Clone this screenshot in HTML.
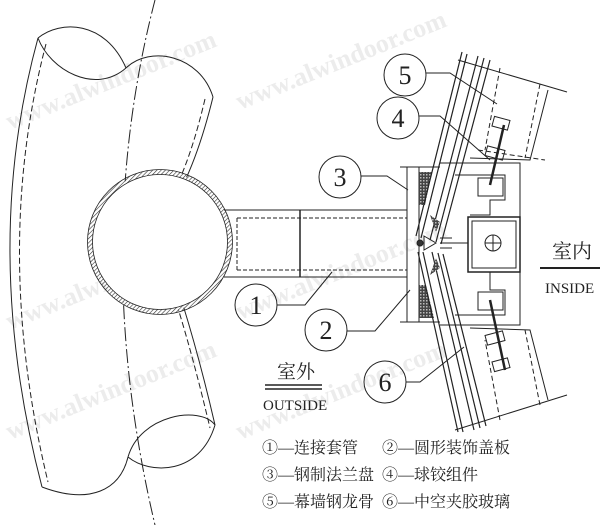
<!DOCTYPE html>
<html><head><meta charset="utf-8"><style>
html,body{margin:0;padding:0;background:#fff;}
svg{display:block;}
text{font-family:"Liberation Serif","Noto Serif CJK SC","Noto Sans CJK SC",serif;fill:#222;}
.cj{font-family:"Noto Serif CJK SC","Noto Sans CJK SC",serif;}
</style></head><body>
<svg width="600" height="525" viewBox="0 0 600 525" xmlns="http://www.w3.org/2000/svg">
<defs>
<pattern id="h" width="3" height="3" patternUnits="userSpaceOnUse" patternTransform="rotate(45)"><line x1="0" y1="0" x2="0" y2="3" stroke="#333" stroke-width="1.2"/></pattern>
<pattern id="x" width="3" height="3" patternUnits="userSpaceOnUse"><rect width="3" height="3" fill="#444"/><rect width="1.5" height="1.5" fill="#bbb"/></pattern>
</defs>
<g font-family="Liberation Sans,sans-serif" font-size="26" font-weight="bold">
<text x="10" y="130" transform="rotate(-22 10 130)" style="fill:#ececec">www.alwindoor.com</text>
<text x="240" y="110" transform="rotate(-22 240 110)" style="fill:#ececec">www.alwindoor.com</text>
<text x="10" y="330" transform="rotate(-22 10 330)" style="fill:#ececec">www.alwindoor.com</text>
<text x="240" y="320" transform="rotate(-22 240 320)" style="fill:#ececec">www.alwindoor.com</text>
<text x="10" y="440" transform="rotate(-22 10 440)" style="fill:#ececec">www.alwindoor.com</text>
<text x="240" y="440" transform="rotate(-22 240 440)" style="fill:#ececec">www.alwindoor.com</text>
</g>
<g fill="none" stroke="#222" stroke-width="1">
<path d="M155 0 Q90 250 155 525" stroke-dasharray="14 3 2 3"/>
<path d="M38 38 Q-20 250 42 487"/>
<path d="M46 44 Q-8 250 48 482" stroke-dasharray="6 3"/>
<path d="M213 97 Q200 150 183 185"/>
<path d="M205 99 Q193 150 178 183" stroke-dasharray="6 3"/>
<path d="M183 305 Q200 360 215 425"/>
<path d="M177 305 Q194 360 210 428" stroke-dasharray="6 3"/>
<path d="M38 38 C60 20 105 20 126 68"/>
<path d="M38 38 C50 70 95 95 126 68"/>
<path d="M126 68 C150 45 200 55 213 97"/>
<path d="M128 457 C140 415 200 405 215 425"/>
<path d="M128 457 C150 475 200 475 215 425"/>
<path d="M128 457 C120 490 90 505 42 487"/>
<circle cx="160" cy="242" r="70" stroke="url(#h)" stroke-width="5" fill="#fff"/>
<circle cx="160" cy="242" r="72.5" stroke-width="0.8"/>
<circle cx="160" cy="242" r="67.5" stroke-width="0.8"/>
<line x1="224" y1="210" x2="407" y2="210"/>
<line x1="224" y1="277" x2="407" y2="277"/>
<path d="M237 218 H407 M237 270 H407 M237 218 V270" stroke-dasharray="4 2"/>
<line x1="300" y1="210" x2="300" y2="277" stroke-width="1.5"/>
<rect x="407" y="167" width="12" height="155"/>
<path d="M419 172 L432 172 L425 205 L419 205 Z" fill="url(#x)" stroke="none"/>
<path d="M419 285 L426 285 L434 318 L419 318 Z" fill="url(#x)" stroke="none"/>
<line x1="400" y1="167" x2="440" y2="167"/><line x1="400" y1="322" x2="440" y2="322"/>
<g stroke-width="1.2">
<line x1="416" y1="236" x2="462" y2="52"/>
<line x1="421" y1="238" x2="467" y2="54"/>
<line x1="430" y1="240" x2="478" y2="56"/>
<line x1="436" y1="242" x2="484" y2="58"/>
<line x1="441" y1="244" x2="490" y2="60"/>
<line x1="418" y1="252" x2="458" y2="432"/>
<line x1="423" y1="252" x2="463" y2="432"/>
<line x1="432" y1="252" x2="474" y2="430"/>
<line x1="438" y1="253" x2="480" y2="428"/>
<line x1="443" y1="254" x2="486" y2="426"/>
</g>
<path d="M430 215 L440 222 L436 232 Z M430 275 L440 268 L436 258 Z" fill="url(#x)" stroke="none"/>
<circle cx="420" cy="243" r="3" fill="#333"/>
<path d="M424 236 L436 243 L424 250 Z"/>
<path d="M440 163 H520 V325 H440"/>
<path d="M455 175 H505 V200 H490 V215 H470"/>
<path d="M455 315 H505 V290 H490 V272 H470"/>
<rect x="478" y="178" width="25" height="18"/>
<rect x="478" y="292" width="25" height="18"/>
<rect x="468" y="217" width="52" height="55" stroke-width="1.5"/>
<rect x="472" y="221" width="44" height="47"/>
<circle cx="493" cy="243" r="8"/>
<path d="M485 243 H501 M493 235 V251"/>
<path d="M440 243 L468 243 M440 238 L452 238 M440 248 L452 248"/>
<path d="M458 60 L567 92"/>
<path d="M548 90 L530 160 L470 158"/>
<path d="M500 68 L485 150 M540 84 L525 158" stroke-dasharray="5 3"/>
<path d="M478 150 L545 160" stroke-dasharray="5 3"/>
<rect x="493" y="118" width="16" height="10" transform="rotate(15 500 123)"/>
<rect x="486" y="148" width="18" height="10" transform="rotate(15 495 153)"/>
<line x1="504" y1="125" x2="490" y2="185" stroke-width="2.5"/>
<path d="M455 430 L567 395"/>
<path d="M548 400 L530 330 L470 328"/>
<path d="M500 420 L485 340 M540 405 L525 330" stroke-dasharray="5 3"/>
<line x1="490" y1="300" x2="505" y2="370" stroke-width="2.5"/>
<rect x="486" y="333" width="18" height="10" transform="rotate(-15 495 338)"/>
<rect x="493" y="360" width="16" height="10" transform="rotate(-15 500 365)"/>
<circle cx="405" cy="75" r="21"/><circle cx="398" cy="118" r="21"/>
<circle cx="340" cy="177" r="21"/><circle cx="256" cy="305" r="21"/>
<circle cx="326" cy="330" r="21"/><circle cx="385" cy="382" r="21"/>
<path d="M426 73 H450 L497 104"/>
<path d="M419 116 H440 L490 160"/>
<path d="M361 176 H387 L408 190"/>
<path d="M277 305 H305 L332 272"/>
<path d="M347 331 H375 L410 290"/>
<path d="M406 382 H420 L464 347"/>
<line x1="540" y1="268" x2="600" y2="268" stroke-width="2"/>
<line x1="265" y1="385" x2="322" y2="385" stroke-width="1.5"/>
<line x1="265" y1="389" x2="322" y2="389" stroke-width="1.5"/>
</g>
<g font-size="26" text-anchor="middle">
<text x="405" y="84">5</text><text x="398" y="127">4</text>
<text x="340" y="186">3</text><text x="256" y="314">1</text>
<text x="326" y="339">2</text><text x="385" y="391">6</text>
</g>
<text x="552" y="258" font-size="20" class="cj">室内</text>
<text x="545" y="293" font-size="15">INSIDE</text>
<text x="277" y="378" font-size="19" class="cj">室外</text>
<text x="263" y="410" font-size="15">OUTSIDE</text>
<g font-size="16" class="cj">
<text x="262" y="453">①—连接套管</text><text x="382" y="453">②—圆形装饰盖板</text>
<text x="262" y="480">③—钢制法兰盘</text><text x="382" y="480">④—球铰组件</text>
<text x="262" y="507">⑤—幕墙钢龙骨</text><text x="382" y="507">⑥—中空夹胶玻璃</text>
</g>
</svg>
</body></html>
